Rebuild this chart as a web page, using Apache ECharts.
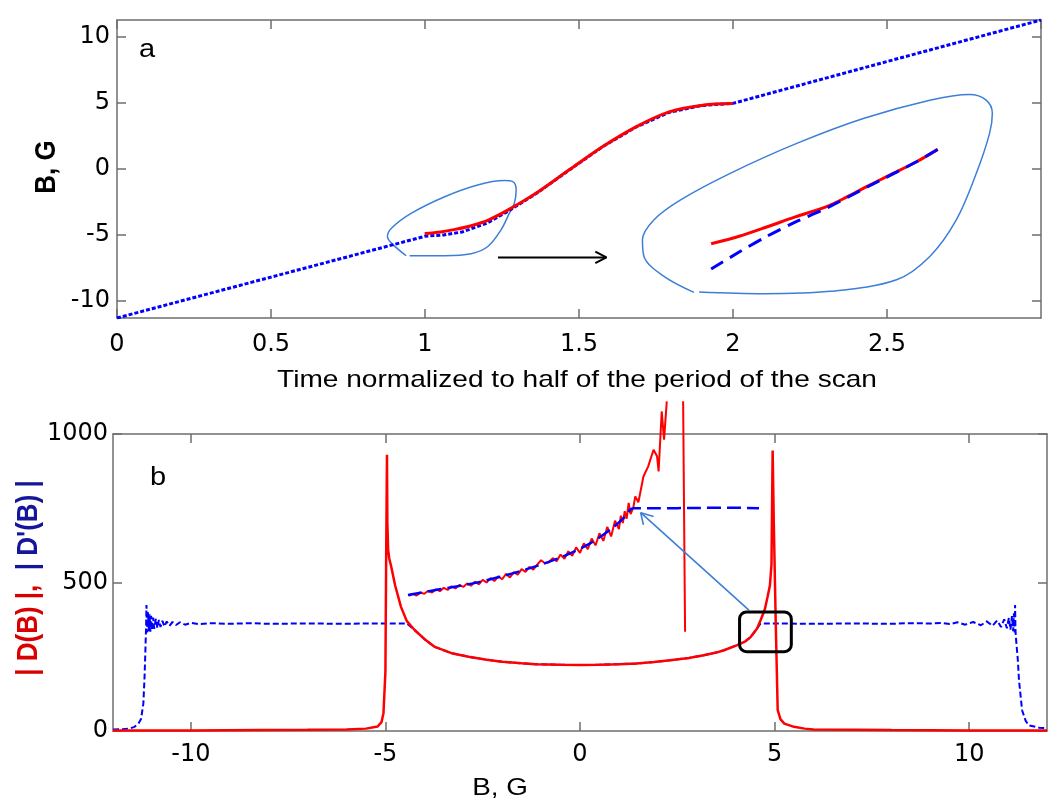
<!DOCTYPE html>
<html><head><meta charset="utf-8">
<script src="https://cdn.jsdelivr.net/npm/echarts@6/dist/echarts.min.js"></script>
<style>html,body{margin:0;padding:0;background:#fff}#c{width:1050px;height:803px}</style>
</head><body><div id="c"></div>
<script>
// ---------- Panel a data (x: normalized time, y: B in G) ----------
const aXTicks = [0, 0.5, 1, 1.5, 2, 2.5];
const aYTicks = [-10, -5, 0, 5, 10];
const aFieldModel = [[0,-11.3],[0.5,-8.2],[1.0,-5.1],[1.06,-5.0],[1.12,-4.78],[1.2,-4.12],[1.27,-3.2],[1.36,-1.88],[1.467,-0.1],[1.576,1.68],[1.685,3.18],[1.793,4.3],[1.9,4.82],[2.0,4.98],[2.5,8.15],[3.0,11.3]];
const aFieldMeasured = [[0.999,-4.9],[1.05,-4.78],[1.098,-4.58],[1.15,-4.3],[1.207,-3.85],[1.27,-3.1],[1.36,-1.84],[1.467,-0.08],[1.576,1.69],[1.685,3.2],[1.793,4.33],[1.902,4.84],[2.0,4.96]];
const aSmallLoop = [[0.939,-6.58],[0.891,-5.62],[0.878,-5.12],[0.891,-4.49],[0.956,-3.35],[1.064,-2.1],[1.171,-1.21],[1.258,-0.88],[1.285,-0.96],[1.296,-1.59],[1.29,-2.6],[1.274,-3.35],[1.247,-4.61],[1.204,-5.88],[1.15,-6.43],[1.064,-6.58],[0.95,-6.58]];
const aBigLoop = [[1.873,-9.36],[1.776,-8.15],[1.711,-6.63],[1.706,-5.37],[1.743,-3.86],[1.83,-2.34],[1.991,-0.33],[2.207,1.94],[2.423,3.83],[2.639,5.22],[2.768,5.65],[2.822,5.22],[2.842,4.21],[2.833,2.7],[2.79,-0.33],[2.725,-3.86],[2.639,-6.63],[2.531,-8.4],[2.315,-9.28],[2.099,-9.46],[1.89,-9.33]];
const aZoomMeasured = [[1.929,-5.67],[2.02,-5.1],[2.109,-4.4],[2.2,-3.65],[2.304,-2.85],[2.37,-2.12],[2.434,-1.34],[2.51,-0.45],[2.596,0.55],[2.665,1.49]];
const aZoomModel = [[1.929,-7.59],[2.02,-6.3],[2.109,-5.12],[2.2,-4.05],[2.304,-2.97],[2.434,-1.39],[2.596,0.55],[2.665,1.49]];
const aArrow = [[1.237,-6.71],[1.589,-6.71]];
const aArrowHead = [[1.553,-6.26],[1.589,-6.71],[1.553,-7.14]];

// ---------- Panel b data (x: B in G, y: |D(B)|, |D'(B)|) ----------
const bXTicks = [-10, -5, 0, 5, 10];
const bYTicks = [0, 500, 1000];
const bDprime = [[-12,5],[-11.75,6],[-11.55,9],[-11.45,14],[-11.35,24],[-11.28,40],[-11.22,92],[-11.19,180],[-11.17,261],[-11.15,351],[-11.14,424],
 [-11.12,332],[-11.1,400],[-11.08,336],[-11.06,393],[-11.04,334],[-11.02,388],[-11.0,340],[-10.97,382],[-10.94,344],[-10.9,378],[-10.86,347],[-10.82,374],[-10.78,350],[-10.73,371],[-10.68,352],[-10.62,369],[-10.55,354],[-10.47,367],[-10.38,357],[-10.28,366],[-10.15,358],[-10.0,364],[-9.8,360],[-9.5,363],[-9,361],[-8.5,363],[-8,361],[-7,362],[-6,361],[-5.5,362],[-4.8,362],[-4.45,362],
 [-4.25,340],[-4.0,310],[-3.73,283],[-3.3,262],[-2.86,250],[-2.4,240],[-2.0,233],[-1.5,228],[-1.14,225],[-0.5,223],[0,222],[0.5,223],[1.0,225],[1.45,227],[1.9,232],[2.31,238],[2.8,246],[3.18,255],[3.5,264],[3.7,272],[4.04,289],[4.25,302],[4.39,317],[4.55,345],[4.64,362],
 [5,362],[6,361],[7,362],[8,361],[8.5,363],[9,362],[9.3,364],[9.5,360],[9.7,366],[9.9,358],[10.1,367],[10.3,356],[10.45,369],[10.6,354],[10.72,372],[10.82,350],[10.9,376],[10.97,346],[11.02,381],[11.06,341],[11.1,387],[11.13,336],[11.15,396],[11.17,332],[11.18,424],[11.19,340],[11.2,317],[11.25,240],[11.28,171],[11.36,70],[11.45,35],[11.53,19],[11.8,11],[12,9]];
const bD = [[-12,2],[-10,2],[-8.2,3],[-7,4],[-6,5],[-5.5,8],[-5.2,15],[-5.1,30],[-5.05,60],[-5.0,200],[-4.98,600],[-4.96,930],[-4.95,700],[-4.93,610],[-4.9,580],[-4.85,553],[-4.75,490],[-4.6,418],[-4.45,370],[-4.25,340],[-4.0,310],[-3.73,283],[-3.3,262],[-2.86,250],[-2.4,240],[-2.0,233],[-1.5,228],[-1.14,225],[-0.5,223],[0,222],[0.5,223],[1.0,225],[1.45,227],[1.9,232],[2.31,238],[2.8,246],[3.18,255],[3.5,264],[3.7,272],[4.04,289],[4.25,302],[4.39,317],[4.55,345],[4.64,373],[4.75,410],[4.82,452],[4.88,490],[4.92,560],[4.95,944],[4.98,700],[5.03,362],[5.08,70],[5.15,40],[5.25,25],[5.5,14],[5.77,8],[6,5],[7,4],[8,3],[10,2],[12,2]];
const bZoomD = [[-4.4,455],[-4.3,462],[-4.2,456],[-4.1,466],[-4.0,462],[-3.9,472],[-3.8,466],[-3.7,477],[-3.6,471],[-3.5,482],[-3.4,475],[-3.3,487],[-3.2,480],[-3.1,492],[-3.0,485],[-2.9,497],[-2.8,489],[-2.7,503],[-2.6,494],[-2.5,509],[-2.4,500],[-2.3,515],[-2.2,505],[-2.1,521],[-2.0,511],[-1.9,529],[-1.8,517],[-1.7,535],[-1.6,526],[-1.5,545],[-1.4,536],[-1.3,553],[-1.2,543],[-1.1,560],[-1.0,575],[-0.9,565],[-0.8,568],[-0.7,582],[-0.6,572],[-0.5,594],[-0.4,580],[-0.3,605],[-0.2,590],[-0.1,618],[0,600],[0.1,632],[0.2,612],[0.3,648],[0.4,625],[0.5,666],[0.6,640],[0.7,687],[0.8,655],[0.9,708],[1.0,680],[1.05,725],[1.1,700],[1.15,740],[1.2,715],[1.25,768],[1.3,730],[1.37,752],[1.42,790],[1.5,770],[1.63,857],[1.75,890],[1.89,947],[1.98,925],[2.02,874],[2.1,1076],[2.16,981],[2.23,1110]];
const bZoomDEdge = [[2.65,1110],[2.7,334]];
const bZoomDprime = [[-4.42,458],[-3.61,477],[-2.75,497],[-1.89,525],[-1.03,559],[-0.34,593],[0.26,632],[0.77,677],[1.12,717],[1.37,750],[2.0,750],[3.0,751],[3.8,752],[4.6,750]];
const bArrow = [[4.34,407],[1.56,735]];
const bArrowHead = [[1.89,722],[1.56,735],[1.63,694]];
const bBox = [[4.1,401,5.43,267]];

// ---------- styles ----------
const TICK_FONT = '"DejaVu Sans", sans-serif';
const TXT_FONT = '"Liberation Sans", Arial, sans-serif';
const AXIS_COLOR = '#6e6e6e';
const LOOP_COLOR = '#3d7fd6';
const plain = v => String(v);

function mainX(min, max, grid, ticks, margin) {
  return { type:'value', gridIndex:grid, min, max, position:'bottom',
    axisLine:{show:true, onZero:false, lineStyle:{color:AXIS_COLOR, width:1.5}},
    axisTick:{show:true, inside:true, length:9, customValues:ticks, lineStyle:{color:AXIS_COLOR, width:1.5}},
    axisLabel:{show:true, customValues:ticks, formatter:plain, margin, fontFamily:TICK_FONT, fontSize:24, color:'#000'},
    splitLine:{show:false} };
}
function mirrorX(min, max, grid, ticks) {
  return { type:'value', gridIndex:grid, min, max, position:'top',
    axisLine:{show:true, onZero:false, lineStyle:{color:AXIS_COLOR, width:1.5}},
    axisTick:{show:true, inside:true, length:9, customValues:ticks, lineStyle:{color:AXIS_COLOR, width:1.5}},
    axisLabel:{show:false}, splitLine:{show:false} };
}
function mainY(min, max, grid, ticks, margin) {
  return { type:'value', gridIndex:grid, min, max, position:'left',
    axisLine:{show:true, onZero:false, lineStyle:{color:AXIS_COLOR, width:1.5}},
    axisTick:{show:true, inside:true, length:9, customValues:ticks, lineStyle:{color:AXIS_COLOR, width:1.5}},
    axisLabel:{show:true, customValues:ticks, formatter:plain, margin, fontFamily:TICK_FONT, fontSize:24, color:'#000'},
    splitLine:{show:false} };
}
function mirrorY(min, max, grid, ticks) {
  return { type:'value', gridIndex:grid, min, max, position:'right',
    axisLine:{show:true, onZero:false, lineStyle:{color:AXIS_COLOR, width:1.5}},
    axisTick:{show:true, inside:true, length:9, customValues:ticks, lineStyle:{color:AXIS_COLOR, width:1.5}},
    axisLabel:{show:false}, splitLine:{show:false} };
}
function line(data, xi, yi, color, width, type, extra) {
  return Object.assign({ type:'line', xAxisIndex:xi, yAxisIndex:yi, data, symbol:'none', silent:true,
    lineStyle:{color, width, type: type || 'solid'}, z:3 }, extra || {});
}

const chart = echarts.init(document.getElementById('c'), null, {renderer:'canvas'});
chart.setOption({
  animation:false,
  backgroundColor:'#fff',
  grid:[
    {left:117, top:20, width:924, height:298},
    {left:113, top:434, width:934, height:297}
  ],
  xAxis:[
    mainX(0, 3, 0, aXTicks, 15),
    mirrorX(0, 3, 0, aXTicks.concat([3])),
    mainX(-12, 12, 1, bXTicks, 12),
    mirrorX(-12, 12, 1, bXTicks)
  ],
  yAxis:[
    mainY(-11.3, 11.3, 0, aYTicks, 7),
    mirrorY(-11.3, 11.3, 0, aYTicks),
    mainY(0, 1000, 1, bYTicks, 5),
    mirrorY(0, 1000, 1, bYTicks)
  ],
  series:[
    // panel a
    line(aSmallLoop, 0, 0, LOOP_COLOR, 1.5, 'solid', {smooth:0.35}),
    line(aBigLoop, 0, 0, LOOP_COLOR, 1.5, 'solid', {smooth:0.35}),
    line(aFieldModel, 0, 0, '#0000ff', 3, [4,2]),
    line(aFieldMeasured, 0, 0, '#ff0000', 3, 'solid', {smooth:0.3}),
    line(aZoomMeasured, 0, 0, '#ff0000', 3, 'solid', {smooth:0.3}),
    line(aZoomModel, 0, 0, '#0000ff', 3, [14,8], {smooth:0.3, z:4}),
    line(aArrow, 0, 0, '#000', 2),
    line(aArrowHead, 0, 0, '#000', 2),
    // panel b
    line(bDprime, 2, 2, '#0000ff', 2, [6,3]),
    line(bD, 2, 2, '#ff0000', 2.5, 'solid', {z:4}),
    line(bZoomD, 2, 2, '#ff0000', 2, 'solid', {clip:false, z:5}),
    line(bZoomDEdge, 2, 2, '#ff0000', 2, 'solid', {clip:false, z:5}),
    line(bZoomDprime, 2, 2, '#0000ff', 2.5, [14,6], {smooth:0.3, z:6}),
    line(bArrow, 2, 2, LOOP_COLOR, 1.6, 'solid', {z:6}),
    line(bArrowHead, 2, 2, LOOP_COLOR, 1.6, 'solid', {z:6}),
    { type:'custom', xAxisIndex:2, yAxisIndex:2, data:bBox, silent:true, z:7, clip:false,
      encode:{x:[0,2], y:[1,3]},
      renderItem:function(params, api){
        const p1 = api.coord([api.value(0), api.value(1)]);
        const p2 = api.coord([api.value(2), api.value(3)]);
        return { type:'rect', shape:{x:p1[0], y:p1[1], width:p2[0]-p1[0], height:p2[1]-p1[1], r:7},
          style:{fill:'none', stroke:'#000', lineWidth:3} };
      } }
  ],
  graphic:[
    {type:'text', x:147, y:50, scaleX:1.16, style:{text:'a', font:'25px '+TXT_FONT, fill:'#000', textAlign:'center', textVerticalAlign:'middle'}},
    {type:'text', x:158, y:478, scaleX:1.16, style:{text:'b', font:'25px '+TXT_FONT, fill:'#000', textAlign:'center', textVerticalAlign:'middle'}},
    {type:'text', x:577, y:380, scaleX:1.17, style:{text:'Time normalized to half of the period of the scan', font:'24px '+TXT_FONT, fill:'#000', textAlign:'center', textVerticalAlign:'middle'}},
    {type:'text', x:500, y:788, scaleX:1.16, style:{text:'B, G', font:'24px '+TXT_FONT, fill:'#000', textAlign:'center', textVerticalAlign:'middle'}},
    {type:'text', x:47, y:167, rotation:Math.PI/2, scaleY:1.16, style:{text:'B, G', font:'bold 26px '+TXT_FONT, fill:'#000', textAlign:'center', textVerticalAlign:'middle'}},
    {type:'text', x:29, y:578, rotation:Math.PI/2, scaleY:1.16, style:{
      text:'{r|| D(B) |,  }{k|| D\'(B) |}', textAlign:'center', textVerticalAlign:'middle',
      rich:{ r:{fill:'#d80000', font:'bold 26px '+TXT_FONT}, k:{fill:'#16169a', font:'bold 26px '+TXT_FONT} } }}
  ]
});
</script></body></html>
